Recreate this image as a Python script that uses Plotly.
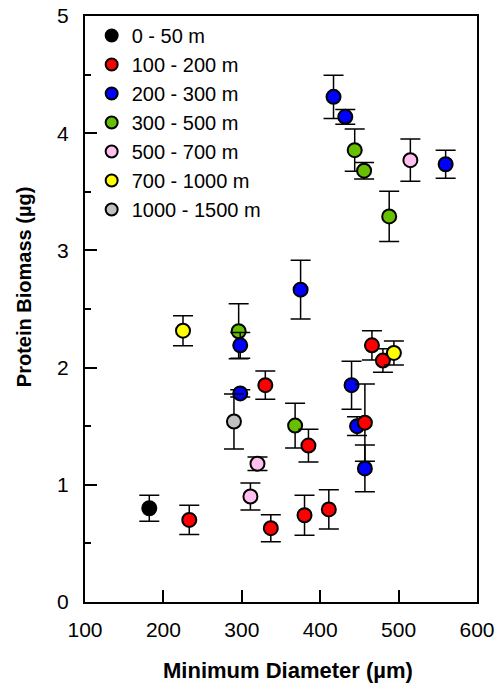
import plotly.graph_objects as go

# ---- data ----
groups = ["0 - 50 m", "100 - 200 m", "200 - 300 m", "300 - 500 m",
          "500 - 700 m", "700 - 1000 m", "1000 - 1500 m"]
colors = ["#000000", "#ff0000", "#0000ff", "#66c000", "#ffc0f0", "#ffff00", "#c0c0c0"]

x_0_50 = [182]
y_0_50 = [0.80]
e_0_50 = [0.11]

x_100_200 = [233, 337, 380, 411, 385, 330, 457, 466, 480]
y_100_200 = [0.70, 0.63, 0.74, 0.79, 1.335, 1.85, 1.53, 2.19, 2.06]
e_100_200 = [0.125, 0.115, 0.17, 0.167, 0.14, 0.12, 0.33, 0.125, 0.10]

x_200_300 = [298, 298, 375, 417, 432, 560, 440, 447, 457]
y_200_300 = [2.19, 1.78, 2.665, 4.31, 4.14, 3.735, 1.85, 1.50, 1.14]
e_200_300 = [0.11, 0.03, 0.25, 0.185, 0.063, 0.12, 0.205, 0.08, 0.20]

x_300_500 = [296, 368, 444, 456, 488]
y_300_500 = [2.31, 1.505, 3.855, 3.68, 3.29]
e_300_500 = [0.235, 0.19, 0.18, 0.07, 0.215]

x_500_700 = [311, 320, 515]
y_500_700 = [0.90, 1.18, 3.77]
e_500_700 = [0.115, 0.057, 0.18]

x_700_1000 = [225, 494]
y_700_1000 = [2.315, 2.125]
e_700_1000 = [0.128, 0.103]

x_1000_1500 = [290]
y_1000_1500 = [1.54]
e_1000_1500 = [0.235]

series = [
    (x_0_50, y_0_50, e_0_50),
    (x_100_200, y_100_200, e_100_200),
    (x_200_300, y_200_300, e_200_300),
    (x_300_500, y_300_500, e_300_500),
    (x_500_700, y_500_700, e_500_700),
    (x_700_1000, y_700_1000, e_700_1000),
    (x_1000_1500, y_1000_1500, e_1000_1500),
]

x_ticks = [100, 200, 300, 400, 500, 600]
y_ticks = [0, 1, 2, 3, 4, 5]

FONT = "Liberation Sans, Arial, sans-serif"

fig = go.Figure()
draw_order = [3, 2, 1, 0, 4, 5, 6]
for i in draw_order:
    xs, ys, es = series[i]
    fig.add_trace(go.Scatter(
        x=xs, y=ys, mode="markers", name=groups[i], legendrank=i + 1,
        marker=dict(size=14, color=colors[i], line=dict(color="black", width=2)),
        error_y=dict(type="data", array=es, visible=True, color="black",
                     thickness=1.5, width=10),
    ))

fig.update_layout(
    width=503, height=683,
    margin=dict(l=85, r=26, t=16, b=81, autoexpand=False),
    plot_bgcolor="white", paper_bgcolor="white",
    font=dict(family=FONT, color="black", size=20),
    showlegend=True,
    legend=dict(x=0.017, y=1.0, xanchor="left", yanchor="top",
                bgcolor="rgba(0,0,0,0)", font=dict(size=20, family=FONT),
                itemsizing="constant", traceorder="normal"),
    xaxis=dict(range=[100, 600], tickvals=x_ticks, ticks="inside", ticklen=12,
               tickwidth=1.5, tickcolor="black", showline=True, linewidth=2,
               linecolor="black", mirror=True, showgrid=False, zeroline=False,
               automargin=False, ticklabeloverflow="allow",
               tickfont=dict(size=21, family=FONT), ticklabelstandoff=8),
    yaxis=dict(range=[0, 5], tickvals=y_ticks, ticks="inside", ticklen=12,
               tickwidth=1.5, tickcolor="black", showline=True, linewidth=2,
               linecolor="black", mirror=True, showgrid=False, zeroline=False,
               automargin=False, ticklabeloverflow="allow",
               tickfont=dict(size=21, family=FONT), ticklabelstandoff=10,
               minor=dict(dtick=0.5, ticks="inside", ticklen=6, tickwidth=1.5,
                          tickcolor="black", showgrid=False)),
    annotations=[
        dict(text="<b>Minimum Diameter (µm)</b>", xref="paper", yref="paper",
             x=0.518, y=-0.117, xanchor="center", yanchor="middle",
             showarrow=False, font=dict(size=22, family=FONT)),
        dict(text="<b>Protein Biomass (µg)</b>", xref="paper", yref="paper",
             x=-0.154, y=0.5367, xanchor="center", yanchor="middle",
             textangle=-90, showarrow=False, font=dict(size=20, family=FONT)),
    ],
)

fig.write_html(
    "out.html",
    config={"displayModeBar": False},
    post_script="document.body.style.margin='0';document.body.style.overflow='hidden';",
)
